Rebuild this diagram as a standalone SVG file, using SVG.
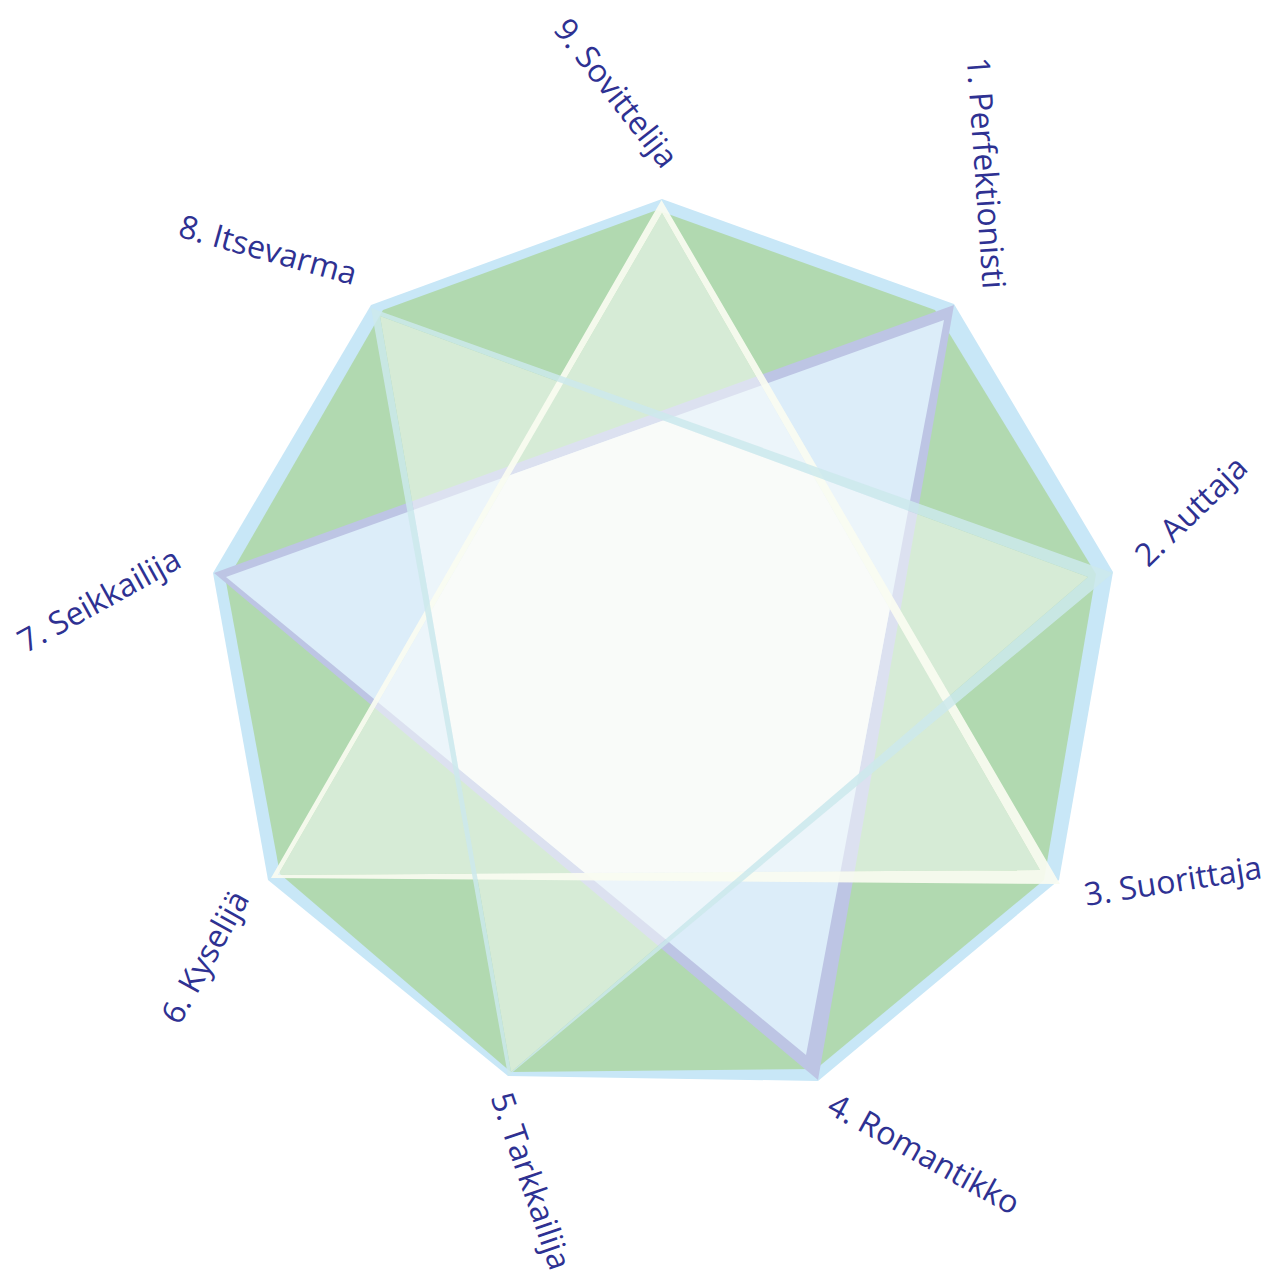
<svg xmlns="http://www.w3.org/2000/svg" width="1272" height="1273" viewBox="0 0 1272 1273">
<defs>
<style>
.lbl{font-family:"Open Sans","Noto Sans","Liberation Sans",sans-serif;font-weight:400;font-size:32px;fill:#2e3192;text-anchor:middle}
</style>
<clipPath id="clipA"><polygon points="944,320 806,1055 226,577"/></clipPath>
<clipPath id="clipB"><polygon points="662,213 1040,870 278,875"/></clipPath>
</defs>
<rect width="1272" height="1273" fill="#ffffff"/>
<g id="nonagon">
<polygon points="662,199 954,304 1113,572 1059,880 818,1081 508,1076 268,880 213,573 371,305" fill="#c8e7f7"/>
<polygon points="657,210 935,310 1096,574 1044,880 816,1069 511,1072 280,874 226,582 383,310" fill="#b1d9b0"/>
</g>
<g id="triangle-147">
<polygon points="954,305 818,1080 214,573" fill="#bdc5e4"/>
<polygon points="944,320 806,1055 226,577" fill="#dcedf9"/>
</g>
<g id="star-fill">
<path d="M662,213 L1040,870 L278,875 Z M380,316 L1088,577 L511,1072 Z" fill="#fbfdfb" fill-opacity="0.5" fill-rule="nonzero"/>
<g clip-path="url(#clipA)"><g clip-path="url(#clipB)"><polygon points="380,316 1088,577 511,1072" fill="#f9fbf9"/></g></g>
</g>
<g id="triangle-369">
<path d="M661.5,200 L1060,884 L271,878 Z M662,213 L278,875 L1040,870 Z" fill="#fafcf1" fill-opacity="0.92" fill-rule="evenodd"/>
</g>
<g id="triangle-258">
<path d="M371,308 L1113,573 L508,1076 Z M380,316 L511,1072 L1088,577 Z" fill="#cde9ec" fill-opacity="0.85" fill-rule="evenodd"/>
</g>
<g id="labels">
<g id="label-9" transform="translate(616,93) rotate(52)"><text class="lbl" x="0" y="0" dy="0.35em">9. Sovittelija</text></g>
<g id="label-1" transform="translate(986,173) rotate(86)"><text class="lbl" x="0" y="0" dy="0.35em">1. Perfektionisti</text></g>
<g id="label-2" transform="translate(1191,511) rotate(-44)"><text class="lbl" x="0" y="0" dy="0.35em">2. Auttaja</text></g>
<g id="label-3" transform="translate(1173,881) rotate(-9)"><text class="lbl" x="0" y="0" dy="0.35em">3. Suorittaja</text></g>
<g id="label-4" transform="translate(924,1154) rotate(29)"><text class="lbl" x="0" y="0" dy="0.35em">4. Romantikko</text></g>
<g id="label-5" transform="translate(531,1181) rotate(71)"><text class="lbl" x="0" y="0" dy="0.35em">5. Tarkkailija</text></g>
<g id="label-6" transform="translate(205,957) rotate(-61)"><text class="lbl" x="0" y="0" dy="0.35em">6. Kyselijä</text></g>
<g id="label-7" transform="translate(99,600) rotate(-29)"><text class="lbl" x="0" y="0" dy="0.35em">7. Seikkailija</text></g>
<g id="label-8" transform="translate(268,250) rotate(15.5)"><text class="lbl" x="0" y="0" dy="0.35em">8. Itsevarma</text></g>
</g>
</svg>
